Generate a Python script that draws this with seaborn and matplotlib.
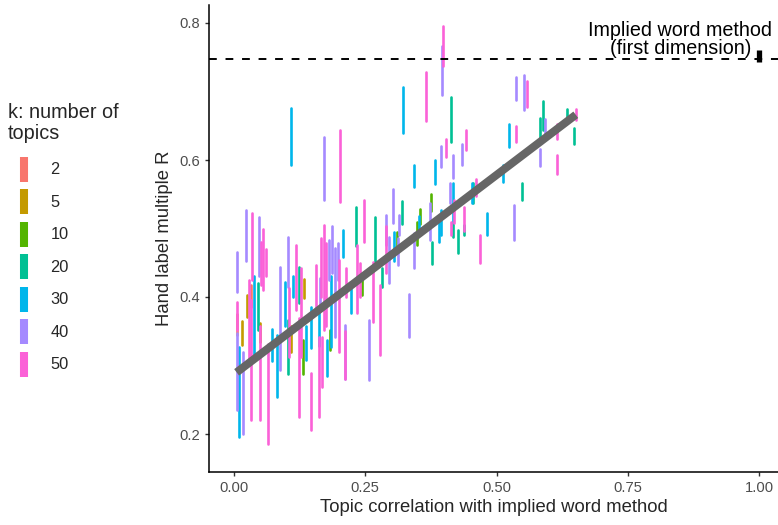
import numpy as np
import pandas as pd
import matplotlib
matplotlib.use("Agg")
import matplotlib.pyplot as plt
from matplotlib.lines import Line2D
import seaborn as sns

# ---------------- data ----------------
K_LEVELS = [2, 5, 10, 20, 30, 40, 50]
K_COLORS = ["#F8766D", "#C49A00", "#53B400", "#00C094", "#00B6EB", "#A58AFF", "#FB61D7"]

K2_X = [0.032, 0.006]
K2_LO = [0.386, 0.345]
K2_HI = [0.417, 0.375]

K5_X = [0.016, 0.025, 0.108, 0.134, 0.050]
K5_LO = [0.330, 0.371, 0.320, 0.398, 0.335]
K5_HI = [0.365, 0.403, 0.357, 0.427, 0.362]

K10_X = [0.131, 0.182, 0.243, 0.310, 0.349, 0.354, 0.375]
K10_LO = [0.288, 0.323, 0.403, 0.474, 0.476, 0.507, 0.525]
K10_HI = [0.337, 0.352, 0.435, 0.495, 0.510, 0.528, 0.551]

K20_X = [0.046, 0.102, 0.123, 0.232, 0.269, 0.281, 0.320, 0.413, 0.417, 0.438,
         0.426, 0.378, 0.455, 0.548, 0.589, 0.583, 0.635, 0.648]
K20_LO = [0.352, 0.288, 0.391, 0.474, 0.451, 0.415, 0.507, 0.627, 0.488, 0.490,
          0.464, 0.448, 0.537, 0.541, 0.644, 0.632, 0.660, 0.624]
K20_HI = [0.420, 0.366, 0.444, 0.532, 0.517, 0.442, 0.540, 0.692, 0.510, 0.505,
          0.498, 0.480, 0.566, 0.566, 0.686, 0.661, 0.674, 0.646]

K30_X = [0.010, 0.039, 0.073, 0.081, 0.098, 0.109, 0.113, 0.138, 0.147, 0.161,
         0.177, 0.184, 0.208, 0.222, 0.305, 0.321, 0.343, 0.352, 0.383, 0.394,
         0.391, 0.417, 0.454, 0.481, 0.512, 0.524]
K30_LO = [0.196, 0.313, 0.306, 0.254, 0.357, 0.593, 0.400, 0.308, 0.325, 0.328,
          0.284, 0.327, 0.459, 0.376, 0.452, 0.639, 0.561, 0.493, 0.565, 0.490,
          0.480, 0.510, 0.537, 0.490, 0.568, 0.619]
K30_HI = [0.327, 0.430, 0.354, 0.345, 0.422, 0.676, 0.430, 0.357, 0.386, 0.386,
          0.337, 0.430, 0.498, 0.422, 0.495, 0.707, 0.593, 0.518, 0.600, 0.527,
          0.512, 0.567, 0.566, 0.522, 0.593, 0.653]

K40_X = [0.005, 0.006, 0.018, 0.023, 0.047, 0.088, 0.102, 0.164, 0.171, 0.181,
         0.186, 0.192, 0.199, 0.212, 0.257, 0.289, 0.295, 0.302, 0.313, 0.334,
         0.342, 0.374, 0.394, 0.397, 0.411, 0.417, 0.434, 0.534, 0.538, 0.553,
         0.582, 0.593, 0.315]
K40_LO = [0.408, 0.235, 0.200, 0.452, 0.430, 0.293, 0.415, 0.386, 0.542, 0.425,
          0.435, 0.342, 0.425, 0.281, 0.279, 0.476, 0.420, 0.508, 0.447, 0.342,
          0.442, 0.483, 0.590, 0.695, 0.537, 0.573, 0.593, 0.483, 0.688, 0.673,
          0.591, 0.637, 0.490]
K40_HI = [0.465, 0.347, 0.320, 0.527, 0.517, 0.444, 0.488, 0.428, 0.633, 0.483,
          0.503, 0.471, 0.479, 0.359, 0.366, 0.520, 0.488, 0.558, 0.486, 0.405,
          0.493, 0.537, 0.620, 0.766, 0.566, 0.607, 0.624, 0.534, 0.721, 0.724,
          0.616, 0.660, 0.520]

K50_X = [0.005, 0.029, 0.032, 0.034, 0.050, 0.051, 0.056, 0.060, 0.064, 0.105,
         0.119, 0.124, 0.128, 0.147, 0.156, 0.161, 0.165, 0.167, 0.172, 0.175,
         0.200, 0.202, 0.213, 0.212, 0.234, 0.240, 0.248, 0.265, 0.279, 0.290,
         0.366, 0.399, 0.403, 0.413, 0.419, 0.438, 0.441, 0.461, 0.469, 0.537,
         0.559, 0.616, 0.616, 0.651]
K50_LO = [0.352, 0.308, 0.220, 0.425, 0.220, 0.417, 0.410, 0.430, 0.186, 0.313,
          0.381, 0.225, 0.313, 0.206, 0.381, 0.225, 0.400, 0.269, 0.352, 0.357,
          0.320, 0.539, 0.400, 0.281, 0.376, 0.400, 0.481, 0.364, 0.315, 0.435,
          0.657, 0.737, 0.605, 0.490, 0.508, 0.496, 0.614, 0.547, 0.450, 0.626,
          0.677, 0.630, 0.580, 0.658]
K50_HI = [0.392, 0.425, 0.396, 0.522, 0.357, 0.480, 0.500, 0.470, 0.332, 0.413,
          0.476, 0.369, 0.442, 0.289, 0.447, 0.342, 0.486, 0.342, 0.505, 0.479,
          0.454, 0.644, 0.442, 0.350, 0.476, 0.450, 0.542, 0.451, 0.418, 0.503,
          0.729, 0.795, 0.631, 0.510, 0.542, 0.532, 0.644, 0.572, 0.490, 0.650,
          0.716, 0.652, 0.607, 0.675]

# fitted linear trend (end points)
FIT_X = [0.005, 0.651]
FIT_Y = [0.290, 0.666]

# Implied word method (first dimension) reference
IMPLIED_X = [1.0]
IMPLIED_LO = [0.743]
IMPLIED_HI = [0.761]
IMPLIED_R = 0.747

# ---------------- assemble ----------------
groups = [(2, K2_X, K2_LO, K2_HI), (5, K5_X, K5_LO, K5_HI), (10, K10_X, K10_LO, K10_HI),
          (20, K20_X, K20_LO, K20_HI), (30, K30_X, K30_LO, K30_HI),
          (40, K40_X, K40_LO, K40_HI), (50, K50_X, K50_LO, K50_HI)]
rows = []
tid = 0
for k, xs, los, his in groups:
    for x, lo, hi in zip(xs, los, his):
        rows.append(dict(id=tid, k=k, x=x, lo=lo, hi=hi))
        tid += 1
topics = pd.DataFrame(rows)
long = pd.concat([
    topics[["id", "k", "x"]].assign(y=topics["lo"], end=0),
    topics[["id", "k", "x"]].assign(y=topics["hi"], end=1),
]).sort_values(["id", "end"]).reset_index(drop=True)

# ---------------- style ----------------
sns.set_style("ticks")
plt.rcParams["font.family"] = ["Liberation Sans", "DejaVu Sans"]

W, H = 778, 525
fig = plt.figure(figsize=(W / 100, H / 100), dpi=100)
left, right, top, bottom = 209, 778, 5, 472
ax = fig.add_axes([left / W, 1 - bottom / H, (right - left) / W, (bottom - top) / H])

palette = dict(zip(K_LEVELS, K_COLORS))
sns.lineplot(data=long, x="x", y="y", hue="k", units="id", estimator=None,
             sort=False, palette=palette, lw=1.9, legend=False, ax=ax)

# regression line
sns.lineplot(x=FIT_X, y=FIT_Y, color="#666666", lw=5.8, ax=ax,
             solid_capstyle="butt", estimator=None)

# implied word method reference
ax.axhline(IMPLIED_R, color="black", lw=1.4, dashes=(4, 4.5))
ax.vlines(IMPLIED_X, IMPLIED_LO, IMPLIED_HI, color="black", lw=3.8)
ax.text(0.85, 0.749, "Implied word method\n(first dimension)", ha="center",
        va="bottom", multialignment="center", fontsize=14.2, color="black",
        linespacing=0.95)

# axes
ax.set_xlim(-25 / 525, 544 / 525)
ax.set_ylim(0.2 - 38 / 685, 0.8 + 18 / 685)
ax.set_xticks([0, 0.25, 0.5, 0.75, 1.0])
ax.set_xticklabels(["0.00", "0.25", "0.50", "0.75", "1.00"])
ax.set_yticks([0.2, 0.4, 0.6, 0.8])
ax.set_yticklabels(["0.2", "0.4", "0.6", "0.8"])
ax.tick_params(axis="both", length=3.2, width=1.0, color="#333333",
               labelsize=10.6, labelcolor="#4D4D4D", pad=3)
for s in ["top", "right"]:
    ax.spines[s].set_visible(False)
for s in ["left", "bottom"]:
    ax.spines[s].set_linewidth(1.1)
    ax.spines[s].set_color("black")
ax.set_xlabel("Topic correlation with implied word method", fontsize=13.3, labelpad=3)
ax.set_ylabel("Hand label multiple R", fontsize=13.3, labelpad=5)

# legend
handles = [Line2D([0], [0], color=c, lw=0, marker="|", markersize=18, mew=5.8)
           for c in K_COLORS]
leg = fig.legend(handles, [str(k) for k in K_LEVELS], loc="upper left",
                 bbox_to_anchor=(8 / W, 1 - 103 / H), frameon=False,
                 title="k: number of\ntopics", fontsize=11.8, title_fontsize=14.3,
                 alignment="left", borderpad=0, borderaxespad=0,
                 handlelength=2.0, handletextpad=0.6, labelspacing=1.07)
leg.get_title().set_linespacing(1.12)
leg._legend_box.sep = 14

fig.savefig("out.png", dpi=100)
